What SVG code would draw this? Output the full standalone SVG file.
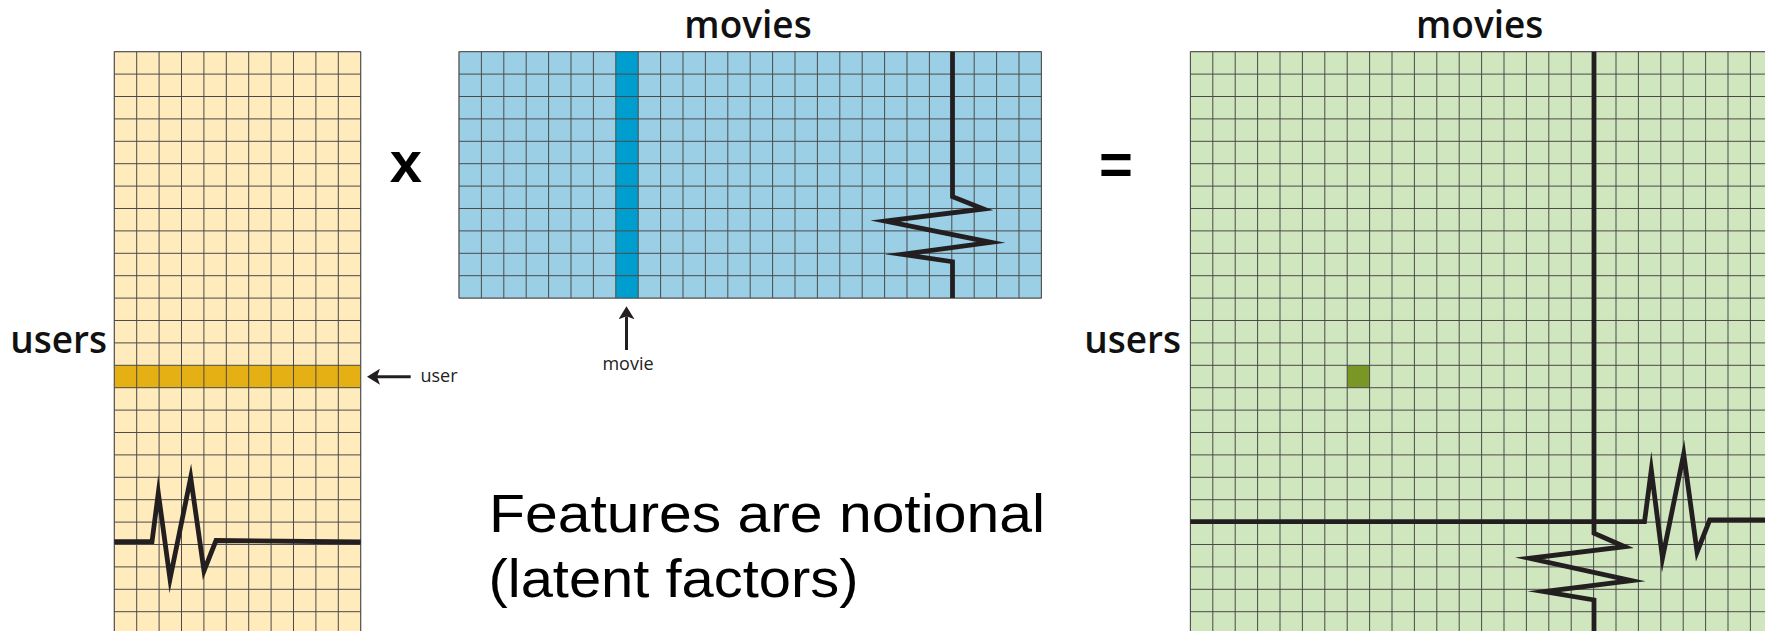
<svg xmlns="http://www.w3.org/2000/svg" width="1765" height="631" viewBox="0 0 1765 631">
<defs>
<style>
.lbl{font-family:"Open Sans","Noto Sans",sans-serif;font-size:37px;font-weight:600;fill:#111}
.sm{font-family:"Open Sans","Noto Sans",sans-serif;font-size:18px;fill:#222}
.op{font-family:"Liberation Sans",Arial,sans-serif;font-weight:bold;font-size:58px;fill:#000;text-anchor:middle}
.note{font-family:"Liberation Sans",Arial,sans-serif;font-size:54px;fill:#000}
.grid{fill:none;stroke:#4a4a4a;stroke-width:1}
.zig{fill:none;stroke:#231f20;stroke-width:4.8;stroke-linejoin:miter;stroke-miterlimit:10}
.arr{fill:none;stroke:#231f20;stroke-width:3}
</style>
<marker id="ah" viewBox="0 0 13 16" refX="3" refY="8" markerWidth="13" markerHeight="16" markerUnits="userSpaceOnUse" orient="auto">
<path d="M0 0L13 8L0 16L3 8z" fill="#231f20"/>
</marker>
</defs>

<g id="users-matrix">
<rect x="114.3" y="51.7" width="246.4" height="590" fill="#ffebbb" stroke="#9a9a9a" stroke-width="1"/>
<rect x="114.3" y="365.3" width="246.4" height="22.4" fill="#e5b013"/>
<path class="grid" d="M114.3 51.7V631m22.4-579.3V631m22.4-579.3V631m22.4-579.3V631m22.4-579.3V631m22.4-579.3V631m22.4-579.3V631m22.4-579.3V631m22.4-579.3V631m22.4-579.3V631m22.4-579.3V631m22.4-579.3V631"/>
<path class="grid" d="M114.3 51.7H360.7m-246.4 22.4H360.7m-246.4 22.4H360.7m-246.4 22.4H360.7m-246.4 22.4H360.7m-246.4 22.4H360.7m-246.4 22.4H360.7m-246.4 22.4H360.7m-246.4 22.4H360.7m-246.4 22.4H360.7m-246.4 22.4H360.7m-246.4 22.4H360.7m-246.4 22.4H360.7m-246.4 22.4H360.7m-246.4 22.4H360.7m-246.4 22.4H360.7m-246.4 22.4H360.7m-246.4 22.4H360.7m-246.4 22.4H360.7m-246.4 22.4H360.7m-246.4 22.4H360.7m-246.4 22.4H360.7m-246.4 22.4H360.7m-246.4 22.4H360.7m-246.4 22.4H360.7m-246.4 22.4H360.7"/>
<polyline class="zig" points="114.3,541.7 152,541.7 158.3,493 170,579 190.7,477.5 204,571 216,540.5 360.7,542"/>
<text class="lbl" x="107" y="353.3" text-anchor="end">users</text>
</g>

<g id="movies-matrix">
<rect x="459" y="51.7" width="582.4" height="246.4" fill="#9acfe6" stroke="#9a9a9a" stroke-width="1"/>
<rect x="615.8" y="51.7" width="22.4" height="246.4" fill="#009ecf"/>
<path class="grid" d="M459 51.7V298.1m22.4-246.4V298.1m22.4-246.4V298.1m22.4-246.4V298.1m22.4-246.4V298.1m22.4-246.4V298.1m22.4-246.4V298.1m22.4-246.4V298.1m22.4-246.4V298.1m22.4-246.4V298.1m22.4-246.4V298.1m22.4-246.4V298.1m22.4-246.4V298.1m22.4-246.4V298.1m22.4-246.4V298.1m22.4-246.4V298.1m22.4-246.4V298.1m22.4-246.4V298.1m22.4-246.4V298.1m22.4-246.4V298.1m22.4-246.4V298.1m22.4-246.4V298.1m22.4-246.4V298.1m22.4-246.4V298.1m22.4-246.4V298.1m22.4-246.4V298.1m22.4-246.4V298.1"/>
<path class="grid" d="M459 51.7H1041.4m-582.4 22.4H1041.4m-582.4 22.4H1041.4m-582.4 22.4H1041.4m-582.4 22.4H1041.4m-582.4 22.4H1041.4m-582.4 22.4H1041.4m-582.4 22.4H1041.4m-582.4 22.4H1041.4m-582.4 22.4H1041.4m-582.4 22.4H1041.4m-582.4 22.4H1041.4"/>
<polyline class="zig" points="952.5,51.7 952.5,196.7 983.6,209 885.4,221 991,242.3 902.2,254.3 952.5,261.7 952.5,298.1"/>
<text class="lbl" x="748" y="38.3" text-anchor="middle">movies</text>
</g>

<g id="ratings-matrix">
<rect x="1190.4" y="51.7" width="600" height="590" fill="#d0e6be" stroke="#9a9a9a" stroke-width="1"/>
<rect x="1347.2" y="365.3" width="22.4" height="22.4" fill="#7a9723"/>
<path class="grid" d="M1190.4 51.7V631m22.4-579.3V631m22.4-579.3V631m22.4-579.3V631m22.4-579.3V631m22.4-579.3V631m22.4-579.3V631m22.4-579.3V631m22.4-579.3V631m22.4-579.3V631m22.4-579.3V631m22.4-579.3V631m22.4-579.3V631m22.4-579.3V631m22.4-579.3V631m22.4-579.3V631m22.4-579.3V631m22.4-579.3V631m22.4-579.3V631m22.4-579.3V631m22.4-579.3V631m22.4-579.3V631m22.4-579.3V631m22.4-579.3V631m22.4-579.3V631m22.4-579.3V631"/>
<path class="grid" d="M1190.4 51.7H1765m-574.6 22.4H1765m-574.6 22.4H1765m-574.6 22.4H1765m-574.6 22.4H1765m-574.6 22.4H1765m-574.6 22.4H1765m-574.6 22.4H1765m-574.6 22.4H1765m-574.6 22.4H1765m-574.6 22.4H1765m-574.6 22.4H1765m-574.6 22.4H1765m-574.6 22.4H1765m-574.6 22.4H1765m-574.6 22.4H1765m-574.6 22.4H1765m-574.6 22.4H1765m-574.6 22.4H1765m-574.6 22.4H1765m-574.6 22.4H1765m-574.6 22.4H1765m-574.6 22.4H1765m-574.6 22.4H1765m-574.6 22.4H1765m-574.6 22.4H1765"/>
<polyline class="zig" points="1594,51.7 1594,533.3 1624.8,546.7 1529.4,558.3 1631.5,580.7 1544.1,591.7 1594,600 1594,640"/>
<polyline class="zig" points="1190.4,521.7 1644.5,521.7 1651.3,470 1662.5,558 1683.7,454 1697.1,552 1709.7,520 1770,520"/>
<text class="lbl" x="1181" y="353.3" text-anchor="end">users</text>
<text class="lbl" x="1479.7" y="38.3" text-anchor="middle">movies</text>
</g>

<g id="operators">
<text class="op" x="406" y="181.7">x</text>
<text class="op" x="1116" y="184">=</text>
</g>

<g id="connectors">
<line class="arr" x1="410.7" y1="376.7" x2="377" y2="376.7" marker-end="url(#ah)"/>
<line class="arr" x1="626.5" y1="350" x2="626.5" y2="316.3" marker-end="url(#ah)"/>
</g>

<g id="labels">
<text class="sm" x="420.5" y="381.7">user</text>
<text class="sm" x="628" y="370" text-anchor="middle">movie</text>
</g>

<g id="note">
<text class="note" x="489" y="531.7" textLength="556" lengthAdjust="spacingAndGlyphs">Features are notional</text>
<text class="note" x="488.5" y="597.3" textLength="370" lengthAdjust="spacingAndGlyphs">(latent factors)</text>
</g>
</svg>
